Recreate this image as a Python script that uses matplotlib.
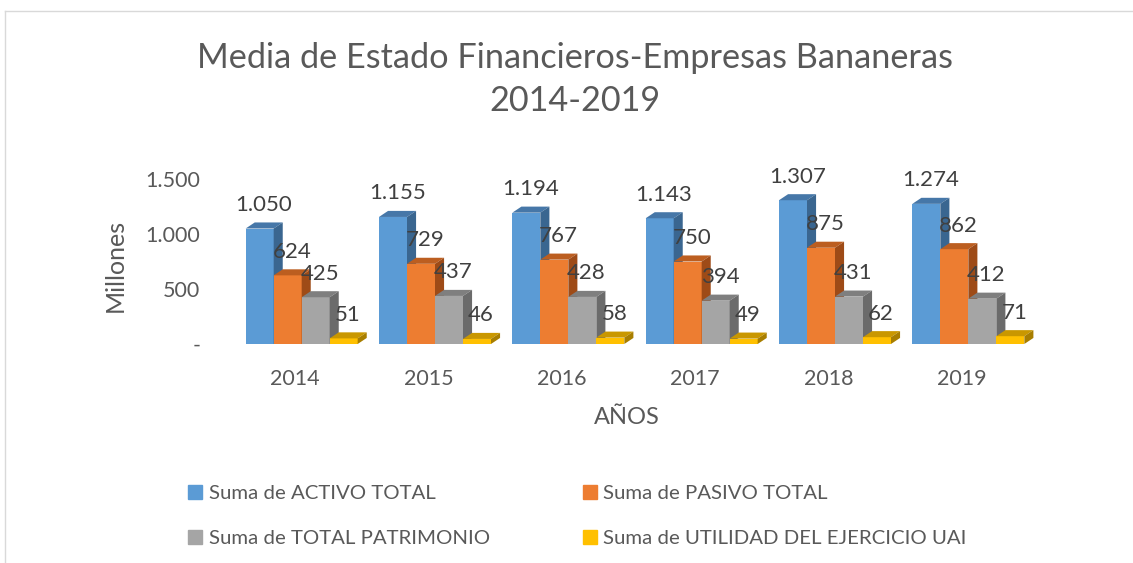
import numpy as np
import matplotlib.pyplot as plt
from matplotlib.patches import Polygon, Rectangle
from matplotlib.lines import Line2D

plt.rcParams['font.family'] = ['Lato', 'DejaVu Sans']

years = ['2014', '2015', '2016', '2017', '2018', '2019']
activo = [1050, 1155, 1194, 1143, 1307, 1274]
pasivo = [624, 729, 767, 750, 875, 862]
patrimonio = [425, 437, 428, 394, 431, 412]
utilidad = [51, 46, 58, 49, 62, 71]

series_names = ['Suma de ACTIVO TOTAL', 'Suma de PASIVO TOTAL',
                'Suma de TOTAL PATRIMONIO', 'Suma de UTILIDAD DEL EJERCICIO UAI']
series_vals = [activo, pasivo, patrimonio, utilidad]
front_cols = ['#5B9BD5', '#ED7D31', '#A5A5A5', '#FFC000']
top_cols = ['#4677A8', '#BC5E20', '#7F7F7F', '#C99700']
side_cols = ['#3A6690', '#9E4B17', '#6B6B6B', '#A87E00']

W = 0.21        # bar width (category units)
DX = 0.068      # depth shift in x
DY = 55         # depth shift in y (value units)

fig = plt.figure(figsize=(11.33, 5.63), dpi=100)
ax = fig.add_axes([235 / 1133, 1 - 344 / 563, 800 / 1133, 165 / 563])

x = np.arange(len(years))
for k, (vals, fc, tc, sc) in enumerate(zip(series_vals, front_cols, top_cols, side_cols)):
    left = x - 2 * W + k * W
    z = 2 + k * 3
    ax.bar(left, vals, width=W, align='edge', color=fc, zorder=z)
    for xl, h in zip(left, vals):
        top = Polygon([(xl, h), (xl + DX, h + DY), (xl + W + DX, h + DY), (xl + W, h)],
                      closed=True, facecolor=tc, edgecolor='none', zorder=z + 1)
        side = Polygon([(xl + W, 0), (xl + W + DX, DY), (xl + W + DX, h + DY), (xl + W, h)],
                       closed=True, facecolor=sc, edgecolor='none', zorder=z + 1)
        ax.add_patch(top)
        ax.add_patch(side)
        lab = f'{h:,}'.replace(',', '.')
        ax.annotate(lab, (xl + W / 2, h), xytext=(3, 17), textcoords='offset points',
                    ha='center', va='center', fontsize=16, color='#404040', zorder=20)

ax.set_xlim(-0.5, len(years) - 0.5)
ax.set_ylim(0, 1500)
ax.set_yticks([0, 500, 1000, 1500])
ax.set_yticklabels(['-', '500', '1.000', '1.500'])
ax.set_xticks(x - 0.05)
ax.set_xticklabels(years)
ax.tick_params(axis='both', length=0, labelsize=15.5, colors='#595959')
ax.tick_params(axis='y', pad=25)
ax.tick_params(axis='x', pad=18)
for s in ax.spines.values():
    s.set_visible(False)
ax.set_ylabel('Millones', fontsize=18, color='#595959')
ax.set_xlabel('AÑOS', fontsize=17, color='#595959')
ax.yaxis.set_label_coords(-0.15, 0.479)
ax.xaxis.set_label_coords(0.49, -0.448)
ax.xaxis.label.set_va('center')
ax.yaxis.label.set_va('center')

fig.text(575 / 1133, 1 - 58 / 563, 'Media de Estado Financieros-Empresas Bananeras',
         ha='center', va='center', fontsize=24.7, color='#595959')
fig.text(575 / 1133, 1 - 101 / 563, '2014-2019',
         ha='center', va='center', fontsize=24.7, color='#595959')

handles = [Rectangle((0, 0), 1, 1, color=c) for c in front_cols]
order = [0, 2, 1, 3]
fig.legend([handles[i] for i in order], [series_names[i] for i in order],
           ncol=2, loc='center left', bbox_to_anchor=(180 / 1133, 1 - 516 / 563),
           borderaxespad=0, frameon=False, fontsize=14.7, labelcolor='#595959',
           handlelength=0.7, handleheight=0.7, handletextpad=0.3,
           columnspacing=4.55, labelspacing=1.33)

# chart area border
fig.add_artist(Line2D([5 / 1133, 1], [1 - 11 / 563, 1 - 11 / 563], color='#D9D9D9', lw=1))
fig.add_artist(Line2D([5 / 1133, 5 / 1133], [0, 1 - 11 / 563], color='#D9D9D9', lw=1))

fig.savefig('out.png', dpi=100)
